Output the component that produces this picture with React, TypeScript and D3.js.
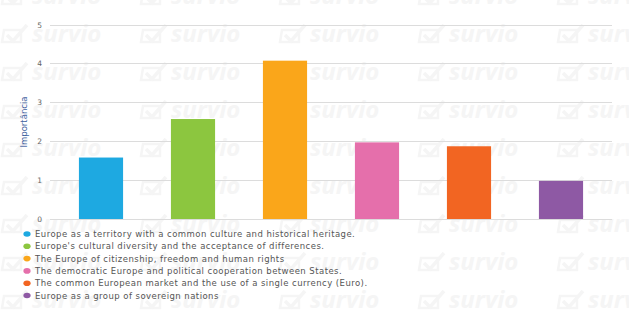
import { useEffect, useRef } from 'react';
import * as d3 from 'd3';

const categories = [
  'Europe as a territory with a common culture and historical heritage.',
  "Europe's cultural diversity and the acceptance of differences.",
  'The Europe of citizenship, freedom and human rights',
  'The democratic Europe and political cooperation between States.',
  'The common European market and the use of a single currency (Euro).',
  'Europe as a group of sovereign nations',
];
const values = [1.58, 2.57, 4.07, 1.97, 1.87, 0.98];
const colors = ['#1ea9e1', '#8cc63f', '#faa61a', '#e56fab', '#f26522', '#8e59a4'];
const yTicks = [0, 1, 2, 3, 4, 5];
const yTitle = 'Importância';

const App = () => {
  const ref = useRef<SVGSVGElement>(null);

  useEffect(() => {
    if (!ref.current) return;
    const svg = d3.select(ref.current);
    svg.selectAll('*').remove();

    const width = 629;
    const height = 316;

    svg.append('rect').attr('width', width).attr('height', height).attr('fill', '#fff');

    // survio watermark, very faint
    const wmColor = '#f5f5f5';
    const wm = svg.append('g').attr('fill', wmColor);
    for (let r = 0; r < 9; r++) {
      for (let c = 0; c < 5; c++) {
        const g = wm.append('g').attr('transform', `translate(${3 + c * 139},${4 + r * 38})`);
        g.append('path')
          .attr('d', 'M1,-12 h17 v12 h-19 z')
          .attr('fill', 'none')
          .attr('stroke', wmColor)
          .attr('stroke-width', 2.5);
        g.append('path')
          .attr('d', 'M4,-7 l6,6 l14,-16')
          .attr('fill', 'none')
          .attr('stroke', wmColor)
          .attr('stroke-width', 3.5);
        g.append('text')
          .attr('x', 29)
          .attr('font-family', 'Open Sans, sans-serif')
          .attr('font-size', 24)
          .attr('font-weight', 'bold')
          .attr('font-style', 'italic')
          .text('survio');
      }
    }

    const margin = { left: 50, right: 17, top: 24.5, bottom: 97 };
    const x = d3
      .scaleBand<number>()
      .domain(d3.range(values.length))
      .range([55, 607])
      .paddingInner(0.52)
      .paddingOuter(0.26);
    const y = d3
      .scaleLinear()
      .domain([0, 5])
      .range([height - margin.bottom, margin.top]);

    // grid
    svg
      .append('g')
      .selectAll('line')
      .data(yTicks)
      .join('line')
      .attr('x1', margin.left)
      .attr('x2', width - margin.right)
      .attr('y1', (d) => Math.round(y(d)) + 0.5)
      .attr('y2', (d) => Math.round(y(d)) + 0.5)
      .attr('stroke', '#dcdcdc');

    svg
      .append('g')
      .selectAll('text')
      .data(yTicks)
      .join('text')
      .attr('x', 42)
      .attr('y', (d) => y(d) + 3)
      .attr('text-anchor', 'end')
      .attr('font-family', 'DejaVu Sans, sans-serif')
      .attr('font-size', 7.5)
      .attr('fill', '#666')
      .text((d) => d);

    svg
      .append('text')
      .attr('transform', `translate(27,122) rotate(-90)`)
      .attr('text-anchor', 'middle')
      .attr('font-family', 'DejaVu Sans, sans-serif')
      .attr('font-size', 8.5)
      .attr('fill', '#3f63a0')
      .text(yTitle);

    // bars
    svg
      .append('g')
      .selectAll('rect')
      .data(values)
      .join('rect')
      .attr('x', (_, i) => x(i)!)
      .attr('width', x.bandwidth())
      .attr('y', (d) => y(d))
      .attr('height', (d) => y(0) - y(d))
      .attr('fill', (_, i) => colors[i]);

    // legend
    const legend = svg
      .append('g')
      .selectAll('g')
      .data(categories)
      .join('g')
      .attr('transform', (_, i) => `translate(27,${234 + i * 12.3})`);
    legend
      .append('ellipse')
      .attr('rx', 3.6)
      .attr('ry', 2.8)
      .attr('fill', (_, i) => colors[i]);
    legend
      .append('text')
      .attr('x', 8)
      .attr('y', 3)
      .attr('font-family', 'DejaVu Sans, sans-serif')
      .attr('font-size', 8.5)
      .attr('letter-spacing', 0.45)
      .attr('fill', '#555')
      .text((d) => d);
  }, []);

  return (
    <svg
      ref={ref}
      width={629}
      height={316}
      style={{ position: 'absolute', left: 0, top: 0, display: 'block' }}
    />
  );
};

export default App;
